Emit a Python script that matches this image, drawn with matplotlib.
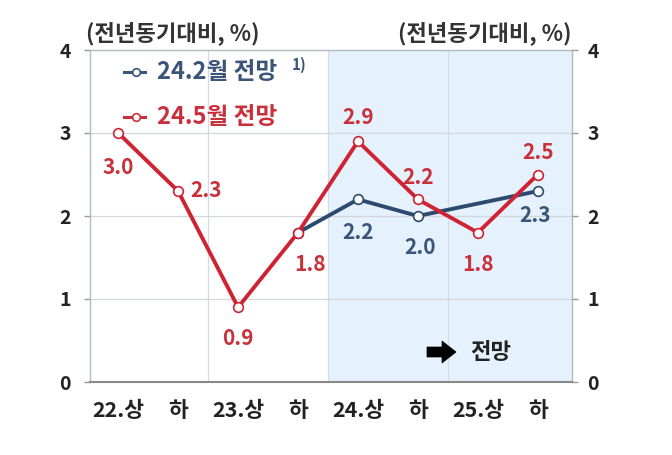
import matplotlib
matplotlib.use("Agg")
import matplotlib.pyplot as plt
from matplotlib.patches import Polygon

plt.rcParams['font.family'] = ['Noto Sans CJK KR', 'DejaVu Sans']

categories = ["22.상", "하", "23.상", "하", "24.상", "하", "25.상", "하"]
red_vals = [3.0, 2.3, 0.9, 1.8, 2.9, 2.2, 1.8, 2.5]
blue_idx = [3, 4, 5, 7]
blue_vals = [1.8, 2.2, 2.0, 2.3]
yticks = [0, 1, 2, 3, 4]

RED = "#cf2233"
BLUE = "#2c4a6e"
RED_TXT = "#c8303a"
BLUE_TXT = "#3a5577"

fig = plt.figure(figsize=(6.72, 4.55), dpi=100)
ax = fig.add_axes([90/672, (455-382)/455, 482/672, 332/455])

x = list(range(len(categories)))
ax.set_xlim(-0.47, 7.57)
ax.set_ylim(0, 4)

ax.axvspan(3.5, 7.57, color="#e5f1fc", zorder=0, lw=0)
for gx in [1.5, 3.5, 5.5]:
    ax.axvline(gx, color="#d4dbe2", lw=0.9, zorder=1)
for gy in [1, 2, 3]:
    ax.axhline(gy, color="#d4d8dc", lw=0.9, zorder=1)

ax.plot(blue_idx, blue_vals, color=BLUE, lw=2.8, zorder=3,
        marker="o", ms=7, mfc="white", mec=BLUE, mew=1.2)
ax.plot(x, red_vals, color=RED, lw=2.8, zorder=4,
        marker="o", ms=7, mfc="white", mec=RED, mew=1.2)

LBL = 15
red_off = [(0, -35), (28, 1), (0, -31), (12, -32), (0, 24), (0, 22), (0, -32), (0, 22)]
for xi, v, (dx, dy) in zip(x, red_vals, red_off):
    ax.annotate(f"{v:.1f}", (xi, v), xytext=(dx, dy), textcoords="offset pixels",
                ha="center", va="center", fontsize=LBL, fontweight="bold",
                color=RED_TXT, zorder=6)
blue_off = [(0, 0), (0, -33), (2, -32), (-3, -24)]
for xi, v, (dx, dy) in zip(blue_idx, blue_vals, blue_off):
    if xi == 3:
        continue
    ax.annotate(f"{v:.1f}", (xi, v), xytext=(dx, dy), textcoords="offset pixels",
                ha="center", va="center", fontsize=LBL, fontweight="bold",
                color=BLUE_TXT, zorder=6)

ax.set_xticks(x)
ax.set_xticklabels(categories, fontsize=15.5, fontweight="bold", color="#222222")
ax.set_yticks(yticks)
ax.set_yticklabels([str(t) for t in yticks], fontsize=14, fontweight="bold", color="#222222")
ax.tick_params(axis="x", length=0, pad=13)
ax.tick_params(axis="y", length=4, width=1, color="#999999", pad=10, direction="out")

ax2 = ax.twinx()
ax2.set_ylim(0, 4)
ax2.set_yticks(yticks)
ax2.set_yticklabels([str(t) for t in yticks], fontsize=14, fontweight="bold", color="#222222")
ax2.tick_params(axis="y", length=4, width=1, color="#999999", pad=7, direction="out")
for s in ax2.spines.values():
    s.set_visible(False)

for s in ["top", "left", "right"]:
    ax.spines[s].set_color("#b0b8c0")
    ax.spines[s].set_linewidth(1.0)
ax.spines["bottom"].set_color("#888888")
ax.spines["bottom"].set_linewidth(1.5)

# headers
fig.text(86/672, 1 - 33/455, "(전년동기대비, %)", fontsize=16, fontweight="bold",
         color="#333333", ha="left", va="center")
fig.text(572/672, 1 - 33/455, "(전년동기대비, %)", fontsize=16, fontweight="bold",
         color="#333333", ha="right", va="center")

# legend (manual)
def leg(y, color, label):
    ax.plot([0.09, 0.45], [y, y], color=color, lw=2.2, zorder=5, clip_on=False)
    ax.plot([0.29], [y], color=color, marker="o", ms=5.5, mfc="white", mec=color,
            mew=1.2, zorder=6)
    ax.text(0.64, y, label, fontsize=17, fontweight="bold", color=color,
            ha="left", va="center", zorder=6)

leg(3.73, BLUE_TXT, "24.2월 전망")
ax.text(2.9, 3.82, "1)", fontsize=11, fontweight="bold", color=BLUE_TXT,
        ha="left", va="center")
leg(3.19, RED_TXT, "24.5월 전망")

# forecast block arrow (axes fraction)
x0, x1, x2 = (427-90)/482, (442-90)/482, (456-90)/482
yc, hs, hh = (382-352)/332, 5/332, 11/332
arrow = Polygon([(x0, yc-hs), (x1, yc-hs), (x1, yc-hh), (x2, yc),
                 (x1, yc+hh), (x1, yc+hs), (x0, yc+hs)], closed=True,
                transform=ax.transAxes, fc="black", ec="black", lw=0.5, zorder=6)
ax.add_patch(arrow)
ax.text(6.22, 0.36, "전망", fontsize=16, fontweight="bold", color="#222222",
        ha="center", va="center")

fig.savefig("out.png", dpi=100)
